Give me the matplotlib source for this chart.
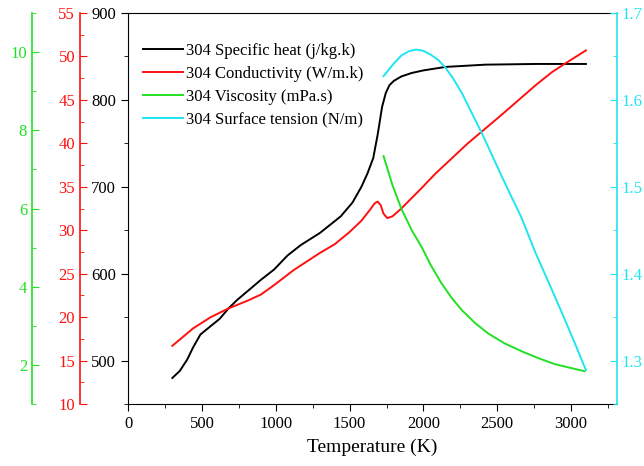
import matplotlib
matplotlib.use("Agg")
import matplotlib.pyplot as plt
from matplotlib.ticker import MultipleLocator

plt.rcParams['font.family'] = ['Liberation Serif', 'DejaVu Serif']

# данные
T_cp = [300, 350, 400, 440, 490, 540, 620, 680, 740, 810, 900, 990, 1080, 1170,
        1300, 1440, 1520, 1580, 1620, 1660, 1690, 1720, 1745, 1770, 1800, 1850,
        1920, 2000, 2150, 2420, 2760, 3100]
cp = [480, 488, 501, 515, 530, 537, 548, 560, 570, 580, 593, 605, 621, 633,
      647, 666, 682, 700, 715, 733, 760, 792, 808, 817, 822, 827,
      831, 834, 838, 840.6, 841.4, 841.4]

T_k = [300, 440, 560, 680, 810, 900, 990, 1120, 1300, 1400, 1500, 1580, 1640, 1670,
       1690, 1710, 1730, 1755, 1790, 1850, 1990, 2080, 2300, 2530, 2760, 2870,
       2960, 3100]
k = [16.7, 18.7, 20.0, 21.0, 21.9, 22.6, 23.7, 25.4, 27.4, 28.4, 29.8, 31.1, 32.4, 33.1,
     33.3, 32.9, 31.9, 31.4, 31.6, 32.5, 34.9, 36.5, 40.0, 43.3, 46.7, 48.2,
     49.2, 50.7]

T_mu = [1730, 1790, 1850, 1920, 1990, 2050, 2120, 2190, 2260, 2350, 2440, 2550,
        2670, 2780, 2890, 3000, 3090]
mu = [7.34, 6.6, 6.0, 5.45, 5.0, 4.55, 4.1, 3.72, 3.4, 3.07, 2.8, 2.55,
      2.34, 2.17, 2.02, 1.92, 1.84]

T_st = [1730, 1800, 1850, 1900, 1950, 2000, 2050, 2100, 2145, 2200, 2260, 2330,
        2400, 2460, 2530, 2600, 2660, 2760, 2850, 2940, 3020, 3100]
st = [1.6275, 1.642, 1.651, 1.656, 1.658, 1.6565, 1.652, 1.646, 1.638, 1.625, 1.608,
      1.584, 1.560, 1.538, 1.512, 1.487, 1.466, 1.4235, 1.389, 1.354, 1.322, 1.289]

GREEN = '#22e022'
RED = '#ff1010'
CYAN = '#1ee6f0'

fig = plt.figure(figsize=(6.44, 4.66), dpi=100)
ax = fig.add_axes([0.1988, 0.133, 0.7592, 0.839])

# дополнительные оси
ax_k = ax.twinx()
ax_mu = ax.twinx()
ax_st = ax.twinx()

l1, = ax.plot(T_cp, cp, color='black', lw=1.4, label='304 Specific heat (j/kg.k)')
l2, = ax_k.plot(T_k, k, color=RED, lw=1.4, label='304 Conductivity (W/m.k)')
l3, = ax_mu.plot(T_mu, mu, color=GREEN, lw=1.4, label='304 Viscosity (mPa.s)')
l4, = ax_st.plot(T_st, st, color=CYAN, lw=1.4, label='304 Surface tension (N/m)')
for l in (l1, l2, l3, l4):
    l.set_solid_joinstyle('round')

ax.set_xlim(0, 3310)
ax.set_ylim(450, 900)
ax_k.set_ylim(10, 55)
ax_mu.set_ylim(1, 11)
ax_st.set_ylim(1.25, 1.7)

ax.xaxis.set_major_locator(MultipleLocator(500))
ax.xaxis.set_minor_locator(MultipleLocator(250))
ax.yaxis.set_major_locator(MultipleLocator(100))
ax.yaxis.set_minor_locator(MultipleLocator(50))
ax.tick_params(axis='both', which='major', direction='out', length=5, labelsize=12)
ax.tick_params(axis='both', which='minor', direction='out', length=3)
ax.tick_params(axis='x', top=False, which='both')
ax.tick_params(axis='y', right=False, which='both')
ax.set_xlabel('Temperature (K)', fontsize=14, labelpad=5)
ax.spines['right'].set_visible(False)

for a, pos, col, maj, mnr in [(ax_k, -0.0982, RED, 5, 2.5),
                              (ax_mu, -0.1963, GREEN, 2, 1)]:
    a.spines['left'].set_position(('axes', pos))
    a.spines['left'].set_visible(True)
    a.spines['left'].set_color(col)
    a.spines['left'].set_linewidth(1.2)
    for s in ['right', 'top', 'bottom']:
        a.spines[s].set_visible(False)
    a.yaxis.set_label_position('left')
    a.yaxis.tick_left()
    a.yaxis.set_major_locator(MultipleLocator(maj))
    a.yaxis.set_minor_locator(MultipleLocator(mnr))
    a.tick_params(axis='y', which='major', direction='in', length=5,
                  color=col, labelcolor=col, labelsize=12)
    a.tick_params(axis='y', which='minor', direction='in', length=3, color=col)

ax_mu.set_yticks([2, 4, 6, 8, 10])

ax_st.spines['right'].set_color(CYAN)
ax_st.spines['right'].set_linewidth(1.2)
for s in ['left', 'top', 'bottom']:
    ax_st.spines[s].set_visible(False)
ax_st.yaxis.set_major_locator(MultipleLocator(0.1))
ax_st.yaxis.set_minor_locator(MultipleLocator(0.05))
ax_st.tick_params(axis='y', which='major', direction='in', length=5,
                  color=CYAN, labelcolor=CYAN, labelsize=12)
ax_st.tick_params(axis='y', which='minor', direction='in', length=3, color=CYAN)

ax.legend(handles=[l1, l2, l3, l4], loc='upper left', bbox_to_anchor=(0.016, 0.94),
          borderaxespad=0, frameon=False, fontsize=12, handlelength=2.4,
          handletextpad=0.2, labelspacing=0.42)

fig.savefig('out.png', dpi=100)
